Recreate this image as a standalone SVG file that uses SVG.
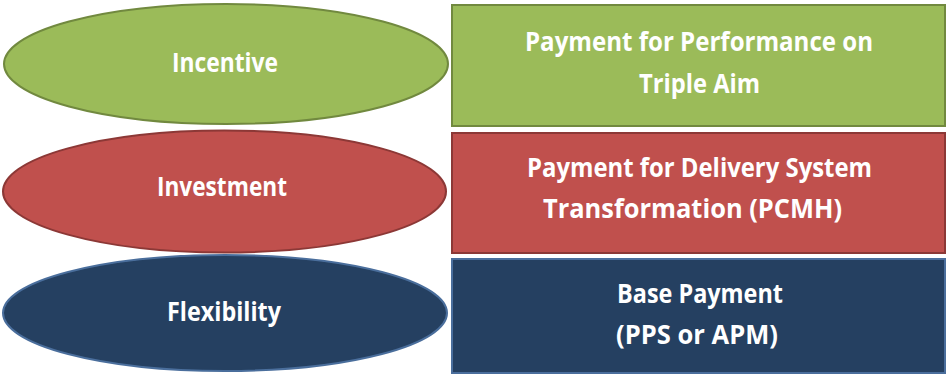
<svg xmlns="http://www.w3.org/2000/svg" width="947" height="375" viewBox="0 0 947 375">
<style>
.t{font-family:"Open Sans","Liberation Sans",sans-serif;font-weight:700;font-size:27px;fill:#ffffff;text-anchor:middle}
.g{fill:#9BBB59;stroke:#71893F;stroke-width:2}
.r{fill:#C0504D;stroke:#8C3836;stroke-width:2}
.b{fill:#254061;stroke:#4A6E9C;stroke-width:2}
</style>
<rect width="947" height="375" fill="#ffffff"/>
<g id="incentive">
<ellipse class="g" cx="226" cy="64" rx="222" ry="60"/>
<text class="t" x="225" y="72" textLength="106" lengthAdjust="spacingAndGlyphs">Incentive</text>
</g>
<g id="investment">
<ellipse class="r" cx="224.5" cy="191.5" rx="221.5" ry="61"/>
<text class="t" x="222" y="196" textLength="130" lengthAdjust="spacingAndGlyphs">Investment</text>
</g>
<g id="flexibility">
<ellipse class="b" cx="225" cy="313" rx="222" ry="58"/>
<text class="t" x="224" y="321" textLength="114" lengthAdjust="spacingAndGlyphs">Flexibility</text>
</g>
<g id="performance">
<rect class="g" x="452" y="5" width="493" height="121"/>
<text class="t" x="699" y="51" textLength="348" lengthAdjust="spacingAndGlyphs">Payment for Performance on</text>
<text class="t" x="699.5" y="93" textLength="121" lengthAdjust="spacingAndGlyphs">Triple Aim</text>
</g>
<g id="delivery">
<rect class="r" x="452" y="133" width="493" height="120"/>
<text class="t" x="699.5" y="177" textLength="345" lengthAdjust="spacingAndGlyphs">Payment for Delivery System</text>
<text class="t" x="692.5" y="218" textLength="299" lengthAdjust="spacingAndGlyphs">Transformation (PCMH)</text>
</g>
<g id="base">
<rect class="b" x="452" y="259" width="493" height="114"/>
<text class="t" x="700" y="303" textLength="166" lengthAdjust="spacingAndGlyphs">Base Payment</text>
<text class="t" x="697" y="344" textLength="162" lengthAdjust="spacingAndGlyphs">(PPS or APM)</text>
</g>
<g id="connectors"></g>
</svg>
